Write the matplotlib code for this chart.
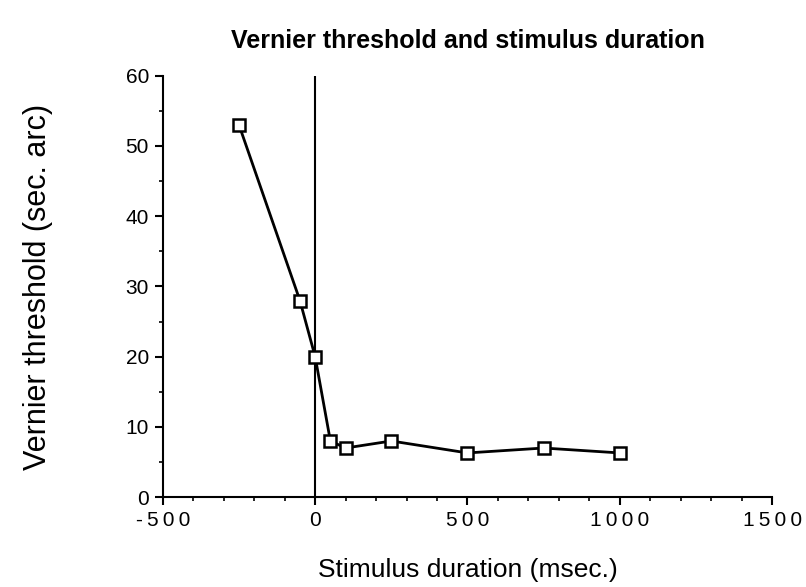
import numpy as np
import matplotlib.pyplot as plt
from matplotlib.ticker import MultipleLocator

plt.rcParams['font.family'] = ['Liberation Sans', 'DejaVu Sans']

# durations (msec) and vernier thresholds (sec. arc)
duration = [-250, -50, 0, 50, 100, 250, 500, 750, 1000]
threshold = [53, 28, 20, 8, 7, 8, 6.3, 7, 6.3]

x_ticks = [-500, 0, 500, 1000, 1500]
x_tick_labels = ["-500", "0", "500", "1000", "1500"]
y_ticks = [0, 10, 20, 30, 40, 50, 60]

fig = plt.figure(figsize=(8.06, 5.87), dpi=100)
ax = fig.add_axes([0.202, 0.153, 0.756, 0.718])

ax.plot(duration, threshold, color="black", lw=2, marker="s", markersize=9,
        markerfacecolor="white", markeredgecolor="black", markeredgewidth=1.8,
        zorder=3)
ax.axvline(0, color="black", lw=1.5, zorder=2)

ax.set_xlim(-500, 1500)
ax.set_ylim(0, 60)
ax.set_xticks(x_ticks)
# the original spreads the digits apart
ax.set_xticklabels(["\u2009".join(lbl) for lbl in x_tick_labels])
ax.set_yticks(y_ticks)
ax.xaxis.set_minor_locator(MultipleLocator(100))
ax.yaxis.set_minor_locator(MultipleLocator(5))

for s in ["top", "right"]:
    ax.spines[s].set_visible(False)
for s in ["left", "bottom"]:
    ax.spines[s].set_linewidth(1.5)

ax.tick_params(which="major", direction="out", length=6, width=1.5,
               labelsize=15)
ax.tick_params(axis="x", which="major", pad=4)
ax.tick_params(axis="y", which="major", pad=4)
ax.tick_params(which="minor", direction="out", length=3, width=1.2)

ax.set_title("Vernier threshold and stimulus duration", fontsize=18,
             fontweight="bold", pad=20)
ax.set_xlabel("Stimulus duration (msec.)", fontsize=19)
ax.set_ylabel("Vernier threshold (sec. arc)", fontsize=22)
ax.xaxis.set_label_coords(0.5, -0.145)
ax.yaxis.set_label_coords(-0.18, 0.5)

fig.savefig("out.png", dpi=100)
